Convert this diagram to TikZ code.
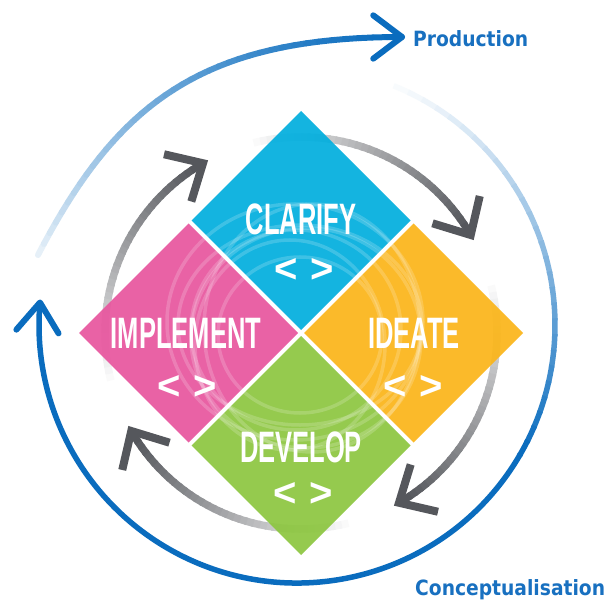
\documentclass[tikz,border=0pt]{standalone}
\usepackage{fontspec}
\setmainfont{Liberation Sans}
\newfontfamily\dvsfont{DejaVu Sans}
\usetikzlibrary{shapes.geometric,calc}
\definecolor{cClar}{RGB}{0,174,222}
\definecolor{cImpl}{RGB}{232,85,158}
\definecolor{cIdea}{RGB}{251,181,24}
\definecolor{cDev}{RGB}{140,198,63}
\definecolor{cBlue}{RGB}{10,108,190}
\definecolor{cTxt}{RGB}{24,112,192}
\definecolor{cGray}{RGB}{85,87,92}
\newcommand\condtxt[1]{\scalebox{0.58}[1]{#1}}
\newcommand\semicond[1]{\scalebox{0.89}[1]{#1}}
\begin{document}
\begin{tikzpicture}[x=1pt,y=-1pt,
  dia/.style={shape=diamond, minimum width=219pt, minimum height=219pt, inner sep=0pt, outer sep=0pt, fill opacity=0.92},
  lbl/.style={text=white, inner sep=0pt, font=\fontsize{44}{44}\selectfont\bfseries},
  chev/.style={text=white, inner sep=0pt, font=\fontsize{40}{40}\selectfont\bfseries},
  bluetxt/.style={text=cTxt, inner sep=0pt, anchor=base west, font=\dvsfont\bfseries\fontsize{21}{25}\selectfont},
  ring/.style={white, opacity=0.18, line width=3.5pt},
  grayhead/.style={cGray, line width=8pt, miter limit=10},
  bluehead/.style={cBlue, line width=6pt, line cap=round, line join=round}]
\useasboundingbox (0,0) rectangle (612,601);
\fill[white] (0,0) rectangle (612,601);

% outer blue arc (Conceptualisation)
\coordinate (bc) at (297,325);
\foreach \i in {0,...,27}{
  \pgfmathsetmacro{\a}{-68+3.5*\i}
  \pgfmathsetmacro{\b}{\a+4}
  \pgfmathsetmacro{\p}{3+97*(\i/27)^1.2}
  \draw[line width=5.5pt, draw=cBlue!\p!white] (bc) ++(\a:258) arc[start angle=\a, end angle=\b, radius=258];
}
\draw[line width=5.5pt, cBlue] (bc) ++(30:258) arc[start angle=30, end angle=185, radius=258] coordinate (btip);
\draw[bluehead] ($(btip)+(131:36)$) -- (btip) -- ($(btip)+(59:36)$);

% top blue arc (Production)
\foreach \i in {0,...,39}{
  \pgfmathsetmacro{\ta}{\i/40}
  \pgfmathsetmacro{\tb}{(\i+1)/40}
  \pgfmathsetmacro{\xa}{(1-\ta)^3*38+3*(1-\ta)^2*\ta*116+3*(1-\ta)*\ta^2*200+\ta^3*402}
  \pgfmathsetmacro{\ya}{(1-\ta)^3*255+3*(1-\ta)^2*\ta*105+3*(1-\ta)*\ta^2*37+\ta^3*37}
  \pgfmathsetmacro{\xb}{(1-\tb)^3*38+3*(1-\tb)^2*\tb*116+3*(1-\tb)*\tb^2*200+\tb^3*402}
  \pgfmathsetmacro{\yb}{(1-\tb)^3*255+3*(1-\tb)^2*\tb*105+3*(1-\tb)*\tb^2*37+\tb^3*37}
  \pgfmathsetmacro{\p}{4+96*(\tb)^0.75}
  \draw[line width=6pt, line cap=round, draw=cBlue!\p!white] (\xa,\ya) -- (\xb,\yb);
}
\coordinate (ptip) at (402,37);
\draw[bluehead] ($(ptip)+(217:36)$) -- (ptip) -- ($(ptip)+(143:36)$);

% gray cycle arcs
\coordinate (gc) at (301,333);
\foreach \tip in {240,330,60,150}{
  \foreach \i in {0,...,35}{
    \pgfmathsetmacro{\a}{\tip-74+2*\i}
    \pgfmathsetmacro{\b}{\a+2.6}
    \pgfmathsetmacro{\p}{3+97*(\i/35)^1.0}
    \draw[line width=7.5pt, draw=cGray!\p!white] (gc) ++(\a:196) arc[start angle=\a, end angle=\b, radius=196];
  }
  \coordinate (gt) at ($(gc)+(\tip:196)$);
  \draw[grayhead] ($(gt)+(\tip-90+43:40)$) -- (gt) -- ($(gt)+(\tip-90-43:40)$);
}

% diamonds
\node[dia, fill=cClar] (clarify) at (301,220.5) {};
\node[dia, fill=cImpl] (implement) at (188.5,333) {};
\node[dia, fill=cIdea] (ideate) at (413.5,333) {};
\node[dia, fill=cDev] (develop) at (301,445.5) {};

% swirl rings
\foreach \cx/\cy/\rx/\ry in {296/330/105/100, 306/338/115/110, 300/325/122/100, 290/345/95/105, 312/328/108/124, 300/335/82/78, 295/322/128/118}{
  \draw[ring] (\cx,\cy) ellipse[x radius=\rx, y radius=\ry];
}

% labels
\node[lbl] (tclar) at (301,219) {\condtxt{CLARIFY}};
\node[chev] (kclar) at (304,270) {<\hspace{12pt}>};
\node[lbl] (timpl) at (186,333) {\condtxt{IMPLEMENT}};
\node[chev] (kimpl) at (187,387) {<\hspace{12pt}>};
\node[lbl] (tidea) at (414,333) {\condtxt{IDEATE}};
\node[chev] (kidea) at (413,387) {<\hspace{12pt}>};
\node[lbl] (tdev) at (301,447) {\condtxt{DEVELOP}};
\node[chev] (kdev) at (303,494) {<\hspace{12pt}>};

\node[bluetxt] (prod) at (413,47) {\semicond{Production}};
\node[bluetxt] (conc) at (415,595) {\semicond{Conceptualisation}};
\end{tikzpicture}
\end{document}
